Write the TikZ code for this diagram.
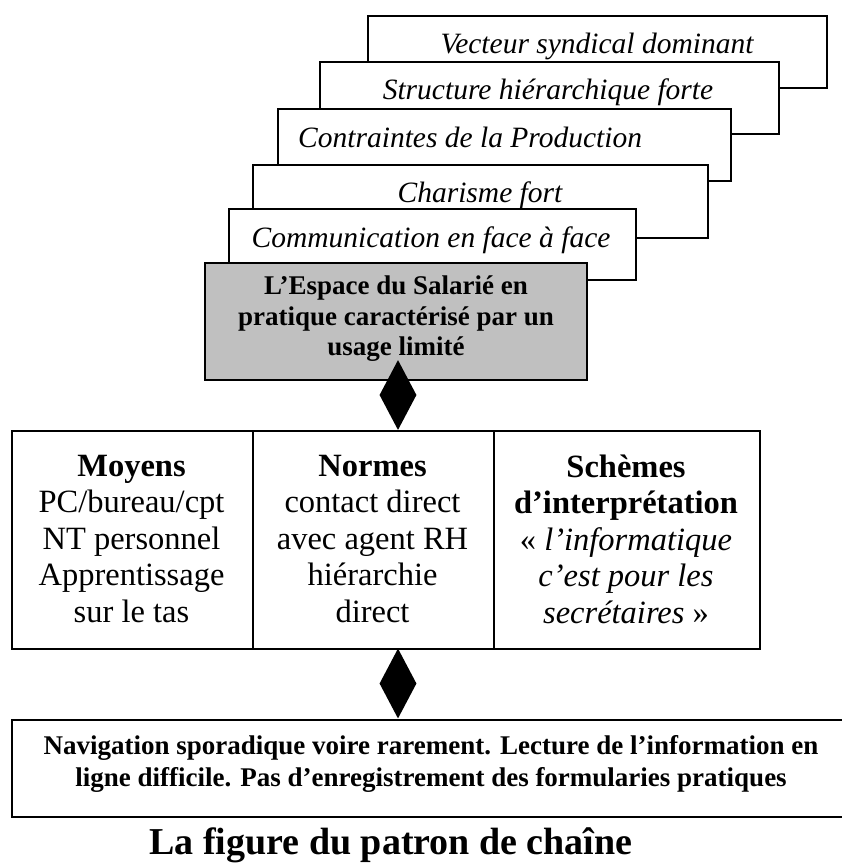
\documentclass[tikz,border=0pt]{standalone}
\usepackage{fontspec}
\setmainfont{Liberation Serif}
\usetikzlibrary{shapes.geometric}
\definecolor{greyfill}{RGB}{192,192,192}
\begin{document}
\begin{tikzpicture}[x=1pt,y=-1pt,
  stackbox/.style={draw,line width=1.8pt,fill=white,anchor=north west,inner sep=0pt},
  colbox/.style={draw,line width=1.8pt,anchor=north west,inner sep=0pt,minimum height=218pt},
  itxt/.style={anchor=base,inner sep=0pt,font=\fontsize{29.5}{34}\selectfont\itshape},
  coltxt/.style={align=center,inner sep=0pt,font=\fontsize{32.5}{36.5}\selectfont},
  link/.style={diamond,fill=black,inner sep=0pt,minimum width=37pt,minimum height=70pt}]
\useasboundingbox (0,0) rectangle (842,863);
% stacked boxes, back to front
\node[stackbox,minimum width=459pt,minimum height=72pt] (b5) at (367,15) {};
\node[itxt] (t5) at (597,53) {Vecteur syndical dominant};
\node[stackbox,minimum width=459pt,minimum height=72pt] (b4) at (319,61) {};
\node[itxt] (t4) at (548,99) {Structure hiérarchique forte};
\node[stackbox,minimum width=453pt,minimum height=72pt] (b3) at (277,108) {};
\node[itxt,anchor=base west] (t3) at (298,147) {Contraintes de la Production};
\node[stackbox,minimum width=455pt,minimum height=73pt] (b2) at (252,164) {};
\node[itxt] (t2) at (480,202) {Charisme fort};
\node[stackbox,minimum width=407pt,minimum height=71pt] (b1) at (228,208) {};
\node[itxt] (t1) at (431,247) {Communication en face à face};
% grey box
\node[stackbox,fill=greyfill,minimum width=382pt,minimum height=117pt] (grey) at (204,262) {};
\node[align=center,inner sep=0pt,font=\fontsize{27}{30.5}\selectfont\bfseries] (gt) at (396,318.6)
  {L’Espace du Salarié en\\pratique caractérisé par un\\usage limité};
% columns
\node[colbox,minimum width=241pt] (c1) at (11,430) {};
\node[colbox,minimum width=241pt] (c2) at (252,430) {};
\node[colbox,minimum width=266pt] (c3) at (493,430) {};
\node[coltxt] (c1t) at (131.5,539) {\textbf{Moyens}\\PC/bureau/cpt\\NT personnel\\Apprentissage\\sur le tas};
\node[coltxt] (c2t) at (372.5,539) {\textbf{Normes}\\contact direct\\avec agent RH\\hiérarchie\\direct};
\node[coltxt] (c3t) at (626,539) {\textbf{Schèmes}\\\textbf{d’interprétation}\\« \textit{l’informatique}\\\textit{c’est pour les}\\\textit{secrétaires} »};
% bottom box
\node[stackbox,minimum width=840pt,minimum height=97pt] (bot) at (11,719) {};
\node[align=center,inner sep=0pt,font=\fontsize{27}{32}\selectfont\bfseries] (bt) at (431,763.6)
  {Navigation sporadique voire rarement. Lecture de l’information en\\ligne difficile. Pas d’enregistrement des formularies pratiques};
% diamonds linking the boxes
\node[link] (d1) at (398,395) {};
\node[link] (d2) at (398,683.5) {};
% title
\node[anchor=base,inner sep=0pt,font=\fontsize{38}{44}\selectfont\bfseries] (title) at (391,854) {La figure du patron de chaîne};
\end{tikzpicture}
\end{document}
